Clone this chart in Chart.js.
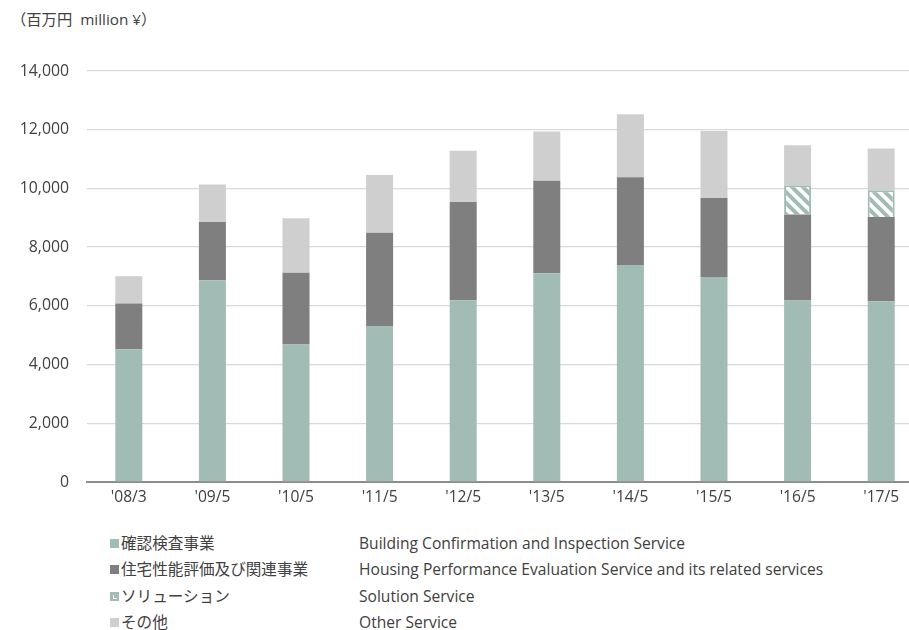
<!DOCTYPE html>
<html>
<head>
<meta charset="utf-8">
<script src="https://cdn.jsdelivr.net/npm/chart.js@4/dist/chart.umd.min.js"></script>
<style>
  html, body { margin: 0; padding: 0; background: #fff; overflow: hidden; }
  body { width: 909px; height: 630px; position: relative; font-family: "Open Sans", "Noto Sans CJK JP", sans-serif; color: #404040; }
  #unit { position: absolute; left: 11px; top: 7px; font-size: 15.3px; }
  #wrap { position: absolute; left: 0; top: 0; width: 923px; height: 512px; }
  #legend { position: absolute; left: 0; top: 531px; font-size: 15.6px; }
  .row { position: absolute; left: 0; height: 24px; line-height: 24px; white-space: nowrap; }
  .sw { position: absolute; left: 110px; top: 8px; width: 9px; height: 9px; }
  .hatch { background:
      linear-gradient(#fff, #fff) 3px 6px / 4px 1px no-repeat,
      linear-gradient(#fff, #fff) 3px 3px / 1px 4px no-repeat,
      #a1bcb4; }
  .jp { position: absolute; left: 121px; }
  .en { position: absolute; left: 359px; }
</style>
</head>
<body>
<div id="unit">（百万円&nbsp; million ¥）</div>
<div id="wrap"><canvas id="myChart"></canvas></div>
<div id="legend"></div>
<script>
const labels = ["'08/3", "'09/5", "'10/5", "'11/5", "'12/5", "'13/5", "'14/5", "'15/5", "'16/5", "'17/5"];
const building = [4520, 6870, 4680, 5310, 6190, 7110, 7390, 6980, 6180, 6160];
const housing = [1560, 1990, 2450, 3180, 3350, 3150, 2990, 2690, 2930, 2870];
const solution = [null, null, null, null, null, null, null, null, 1000, 910];
const other = [930, 1270, 1850, 1970, 1740, 1680, 2150, 2290, 1360, 1420];

const namesJp = ["確認検査事業", "住宅性能評価及び関連事業", "ソリューション", "その他"];
const namesEn = ["Building Confirmation and Inspection Service", "Housing Performance Evaluation Service and its related services", "Solution Service", "Other Service"];

const green = '#a1bcb4';
const dark = '#7f7f7f';
const light = '#cfcfcf';

// hatch for solution service
function makeHatch() {
    const c = document.createElement('canvas');
    c.width = 11; c.height = 11;
    const g = c.getContext('2d');
    g.fillStyle = '#fff';
    g.fillRect(0, 0, 11, 11);
    g.strokeStyle = green;
    g.lineWidth = 4;
    g.beginPath();
    g.moveTo(-3, -3); g.lineTo(14, 14);
    g.moveTo(-14, -3); g.lineTo(3, 14);
    g.moveTo(8, -3); g.lineTo(25, 14);
    g.stroke();
    return g.createPattern(c, 'repeat');
}

const ctx = document.getElementById('myChart').getContext('2d');
var chart = new Chart(ctx, {
    type: 'bar',
    data: {
        labels: labels,
        datasets: [
            { label: namesJp[0], data: building, backgroundColor: green },
            { label: namesJp[1], data: housing, backgroundColor: dark },
            { label: namesJp[2], data: solution, backgroundColor: makeHatch(), borderColor: green, borderWidth: 2 },
            { label: namesJp[3], data: other, backgroundColor: light }
        ]
    },
    options: {
        responsive: true,
        maintainAspectRatio: false,
        animation: false,
        layout: { padding: { top: 71, left: 0, right: 0, bottom: 0 } },
        datasets: { bar: { categoryPercentage: 1, barPercentage: 0.323 } },
        plugins: { legend: { display: false }, tooltip: { enabled: false } },
        scales: {
            x: {
                stacked: true,
                grid: { display: false, drawTicks: false },
                border: { color: '#8c8c8c', width: 2 },
                ticks: { color: '#404040', padding: 6, font: { family: '"Open Sans", sans-serif', size: 15.6 } },
                afterFit: function (s) { s.height = 512 - 482; }
            },
            y: {
                stacked: true,
                min: 0, max: 14000,
                grid: { color: '#d9d9d9', lineWidth: 1.3, drawTicks: false },
                border: { display: false },
                ticks: {
                    stepSize: 2000,
                    color: '#404040',
                    padding: 18,
                    font: { family: '"Open Sans", sans-serif', size: 15.8 },
                    callback: v => v.toLocaleString('en-US')
                },
                afterFit: function (s) { s.width = 87; }
            }
        }
    }
});

// legend built as html
const swatches = ['', '', 'hatch', ''];
const swColors = [green, dark, null, light];
const leg = document.getElementById('legend');
namesJp.forEach((n, i) => {
    const row = document.createElement('div');
    row.className = 'row';
    row.style.top = (i * 26.3) + 'px';
    const sw = document.createElement('span');
    sw.className = 'sw ' + swatches[i];
    if (swColors[i]) sw.style.background = swColors[i];
    const jp = document.createElement('span');
    jp.className = 'jp'; jp.textContent = n;
    const en = document.createElement('span');
    en.className = 'en'; en.textContent = namesEn[i];
    row.appendChild(sw); row.appendChild(jp); row.appendChild(en);
    leg.appendChild(row);
});
</script>
</body>
</html>
